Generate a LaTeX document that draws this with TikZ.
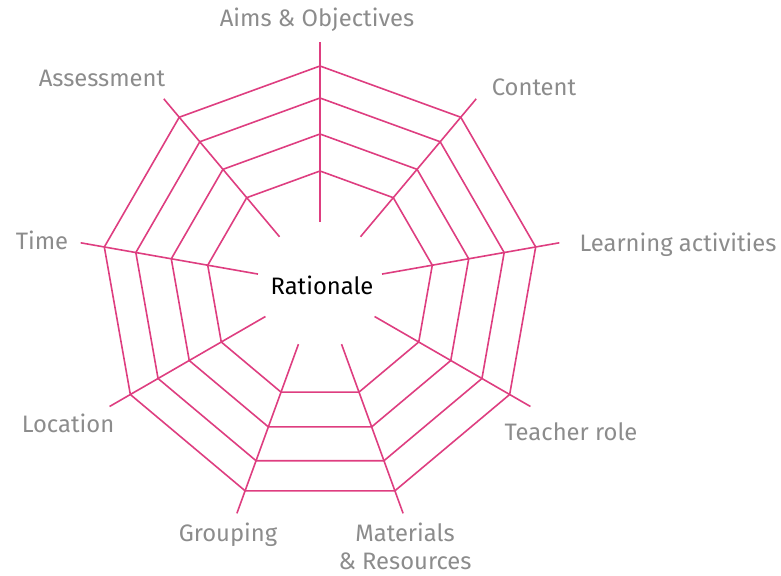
\documentclass[tikz,border=0pt]{standalone}
\usepackage{fontspec}
\setmainfont{Fira Sans}
\begin{document}
\begin{tikzpicture}[x=0.5pt, y=0.5pt,
    web/.style={draw=pink, line width=0.8pt, line join=round},
    label/.style={text=labelgray, font=\fontsize{11.9}{14}\selectfont, inner sep=0pt, align=center},
  ]

\definecolor{pink}{RGB}{222,62,128}
\definecolor{labelgray}{RGB}{140,140,140}

\useasboundingbox (0,0) rectangle (781,575);

% spokes
\foreach \a in {90,50,...,-230}
    \draw[web, shift={(320,290)}] (\a:63) -- (\a:243);

% rings
\foreach \r in {114,151,187,219}
    \draw[web, shift={(320,290)}] (90:\r) \foreach \a in {130,170,...,410} { -- (\a:\r) } -- cycle;

\node[label] (aims) at (317,555) {Aims \& Objectives};
\node[label] (content) at (534,488) {Content};
\node[label] (learning) at (678,330) {Learning activities};
\node[label] (teacher) at (571,143) {Teacher role};
\node[label] (materials) at (405,29) {Materials\\\& Resources};
\node[label] (grouping) at (228,40) {Grouping};
\node[label] (location) at (68,152) {Location};
\node[label] (time) at (42,335) {Time};
\node[label] (assessment) at (102,497) {Assessment};
\node[label, text=black] (rationale) at (322,290) {Rationale};
\end{tikzpicture}
\end{document}
